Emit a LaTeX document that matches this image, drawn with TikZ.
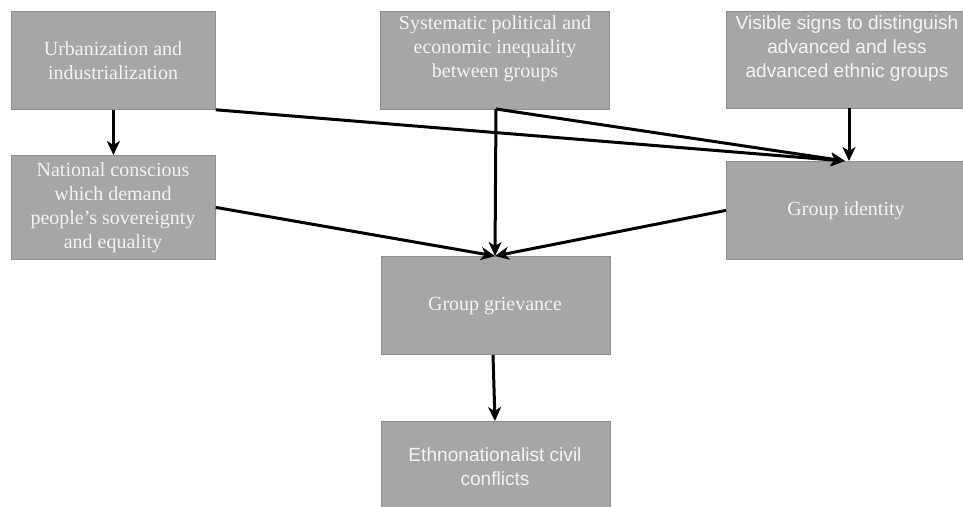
\documentclass[tikz,border=0pt]{standalone}
\usepackage{fontspec}
\setmainfont{Liberation Serif}
\newfontfamily\sansf{Liberation Sans}
\usetikzlibrary{arrows.meta}
\definecolor{boxfill}{HTML}{A6A6A6}
\definecolor{boxline}{HTML}{8E8E8E}
\definecolor{boxtext}{HTML}{F4F4F4}
\tikzset{
  box/.style={draw=boxline, line width=0.8pt, fill=boxfill, inner sep=0pt, anchor=north west},
  txt/.style={text=boxtext, align=center, font=\fontsize{20}{24}\selectfont, inner sep=0pt},
  stxt/.style={txt, font=\sansf\fontsize{19.1}{24}\selectfont},
  arr/.style={line width=3pt, -{Stealth[length=14pt,width=13pt,inset=4pt]}}
}
\begin{document}
\begin{tikzpicture}[x=1pt,y=-1pt]
\useasboundingbox (0,0) rectangle (963,506);
% boxes
\node[box, minimum width=204pt, minimum height=98pt] (b1) at (11,11) {};
\node[box, minimum width=229pt, minimum height=98pt] (b2) at (380,11) {};
\node[box, minimum width=240pt, minimum height=97pt] (b3) at (726,11) {};
\node[box, minimum width=204pt, minimum height=104pt] (b4) at (11,155) {};
\node[box, minimum width=240pt, minimum height=98pt] (gi) at (726,161) {};
\node[box, minimum width=229pt, minimum height=98pt] (gg) at (381,256) {};
\node[box, minimum width=229pt, minimum height=90pt] (ec) at (381,421) {};
% texts
\node[txt] (t1) at (113,61) {Urbanization and\\industrialization};
\node[txt] (t2) at (495,49) {Systematic political and\\economic inequality\\between groups};
\node[stxt] (t3) at (847,49) {Visible signs to distinguish\\advanced and less\\advanced ethnic groups};
\node[txt] (t4) at (113,208) {National conscious\\which demand\\people’s sovereignty\\and equality};
\node[txt] (t5) at (846,211) {Group identity};
\node[txt] (t6) at (495,306) {Group grievance};
\node[stxt] (t7) at (495,467) {Ethnonationalist civil\\conflicts};
% connectors
\coordinate (gitop) at (845,161);
\coordinate (ggtop) at (495,256);
\coordinate (b2bot) at (496,109);
\draw[arr] (b1.south) -- (b4.north);
\draw[arr] (b1.south east) -- (gitop);
\draw[arr] (b2bot) -- (ggtop);
\draw[arr] (b2bot) -- (gitop);
\draw[arr] (849,108) -- (849,161);
\draw[arr] (b4.east) -- (ggtop);
\draw[arr] (gi.west) -- (ggtop);
\draw[arr] (493,355) -- (495,421);
\end{tikzpicture}
\end{document}
